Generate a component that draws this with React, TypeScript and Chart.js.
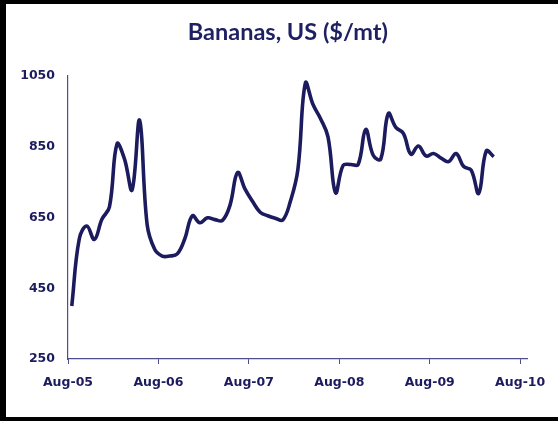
import React, { useEffect, useRef } from "react";
import { Chart, registerables } from "chart.js";

Chart.register(...registerables);

// Monthly prices, Aug-05 .. Apr-10 (US$/mt), plotted at mid-month
const monthLabels = [
  "Aug-05","Sep-05","Oct-05","Nov-05","Dec-05","Jan-06","Feb-06","Mar-06","Apr-06","May-06","Jun-06","Jul-06",
  "Aug-06","Sep-06","Oct-06","Nov-06","Dec-06","Jan-07","Feb-07","Mar-07","Apr-07","May-07","Jun-07","Jul-07",
  "Aug-07","Sep-07","Oct-07","Nov-07","Dec-07","Jan-08","Feb-08","Mar-08","Apr-08","May-08","Jun-08","Jul-08",
  "Aug-08","Sep-08","Oct-08","Nov-08","Dec-08","Jan-09","Feb-09","Mar-09","Apr-09","May-09","Jun-09","Jul-09",
  "Aug-09","Sep-09","Oct-09","Nov-09","Dec-09","Jan-10","Feb-10","Mar-10","Apr-10",
];
const prices = [
  400, 590, 626, 588, 645, 680, 858, 815, 728, 925, 630, 560,
  541, 541, 547, 590, 655, 635, 649, 644, 642, 685, 777, 730,
  695, 665, 655, 648, 643, 695, 785, 1030, 970, 930, 878, 720,
  797, 800, 800, 899, 826, 815, 944, 905, 888, 829, 852, 824,
  831, 818, 808, 831, 794, 784, 718, 838, 822,
];
const xTickLabels = ["Aug-05", "Aug-06", "Aug-07", "Aug-08", "Aug-09", "Aug-10"];
const axisMonths = 61; // Aug-05 .. Sep-10
const yMin = 250;
const yMax = 1050;
const yStep = 200;
const titleText = "Bananas, US ($/mt)";

const NAVY = "#1b1b5e";
const AXIS = "#4e4e8e";

const titlePlugin = {
  id: "centeredTitle",
  afterDraw(chart: any) {
    const { ctx, chartArea } = chart;
    ctx.save();
    ctx.fillStyle = "#1f1f63";
    ctx.font = "bold 23.5px Lato";
    ctx.textAlign = "center";
    ctx.textBaseline = "middle";
    ctx.fillText(titleText, (chartArea.left + chartArea.right) / 2 - 10, chartArea.top - 44);
    ctx.restore();
  },
};

export default function App() {
  const ref = useRef<HTMLCanvasElement | null>(null);

  useEffect(() => {
    if (!ref.current) return;
    const data = prices.map((v, i) => ({ x: i + 0.5, y: v }));
    const chart = new Chart(ref.current, {
      type: "line",
      data: {
        labels: monthLabels,
        datasets: [
          {
            label: titleText,
            data,
            borderColor: NAVY,
            borderWidth: 3.6,
            pointRadius: 0,
            tension: 0.4,
            fill: false,
          },
        ],
      },
      options: {
        responsive: false,
        animation: false,
        devicePixelRatio: 1,
        layout: { padding: { left: 0, right: 30.3, top: 72, bottom: 0 } },
        plugins: {
          legend: { display: false },
          tooltip: { enabled: false },
          title: { display: false },
        },
        scales: {
          x: {
            type: "linear",
            min: 0,
            max: axisMonths,
            afterFit: (s: any) => {
              s.height = 58;
            },
            grid: {
              display: true,
              drawOnChartArea: false,
              drawTicks: true,
              tickLength: 5,
              tickColor: AXIS,
              color: AXIS,
            },
            border: { display: true, color: AXIS, width: 1.2 },
            ticks: {
              stepSize: 12,
              includeBounds: false,
              maxRotation: 0,
              autoSkip: false,
              padding: 11,
              color: NAVY,
              font: { family: "DejaVu Sans", weight: "bold", size: 12.5 },
              callback: (v: any) => {
                const k = Math.round(Number(v) / 12);
                return Number(v) % 12 === 0 ? xTickLabels[k] ?? "" : "";
              },
            },
          },
          y: {
            min: yMin,
            max: yMax,
            afterFit: (s: any) => {
              s.width = 62;
            },
            grid: { display: true, drawOnChartArea: false, drawTicks: false },
            border: { display: true, color: AXIS, width: 1.2 },
            ticks: {
              stepSize: yStep,
              padding: 13,
              color: NAVY,
              font: { family: "DejaVu Sans", weight: "bold", size: 12.5 },
              callback: (v: any) => String(v),
            },
          },
        },
      },
      plugins: [titlePlugin],
    });
    return () => chart.destroy();
  }, []);

  return (
    <div
      style={{
        position: "absolute",
        left: 0,
        top: 0,
        width: 558,
        height: 421,
        boxSizing: "border-box",
        borderTop: "4px solid #000",
        borderLeft: "6px solid #000",
        borderBottom: "4px solid #000",
        background: "#fff",
        overflow: "hidden",
      }}
    >
      <canvas ref={ref} width={552} height={413} style={{ display: "block" }} />
    </div>
  );
}
